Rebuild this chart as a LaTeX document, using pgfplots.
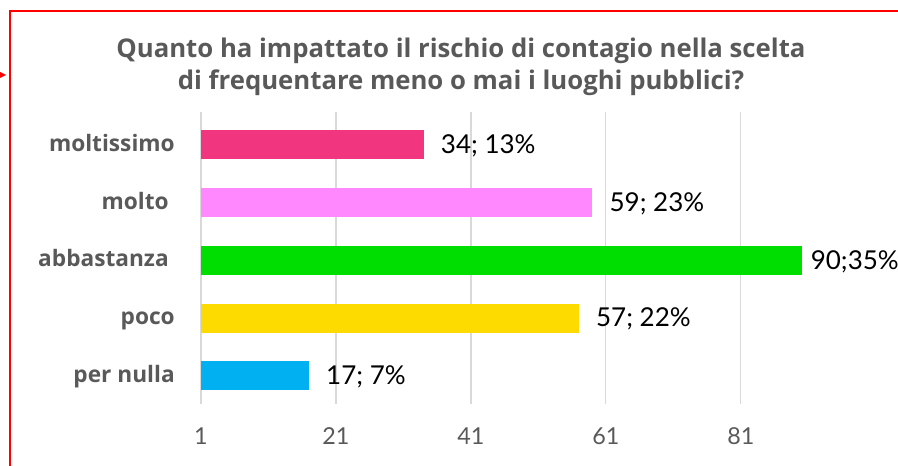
\documentclass[border=0pt]{standalone}
\usepackage{pgfplots}
\pgfplotsset{compat=1.18}
\usepackage{fontspec}
\setmainfont{Lato}
\newfontfamily\titlefont{Open Sans}
\definecolor{txtgray}{HTML}{595959}
\definecolor{gridgray}{HTML}{D9D9D9}
\definecolor{cMoltissimo}{HTML}{F2357F}
\definecolor{cMolto}{HTML}{FF88FF}
\definecolor{cAbbastanza}{HTML}{00DD00}
\definecolor{cPoco}{HTML}{FDDB00}
\definecolor{cNulla}{HTML}{00B0F0}
\newcommand{\semic}{;}
\begin{document}
\begin{tikzpicture}
\path[use as bounding box] (0,0) rectangle (673.5pt,349.5pt);
% frame
\draw[red, line width=1.5pt] (7.5pt,-5pt) -- (7.5pt,341.25pt) -- (680pt,341.25pt);
\fill[red] (-2pt,290pt) -- (4.5pt,293.25pt) -- (-2pt,296.5pt) -- cycle;
% title
\node[anchor=base, font=\titlefont\bfseries\fontsize{19.3pt}{22pt}\selectfont, text=txtgray, inner sep=0] at (345.75pt,306.5pt) {Quanto ha impattato il rischio di contagio nella scelta};
\node[anchor=base, font=\titlefont\bfseries\fontsize{19.3pt}{22pt}\selectfont, text=txtgray, inner sep=0] at (345.75pt,282pt) {di frequentare meno o mai i luoghi pubblici?};
\begin{axis}[
  at={(150.75pt,46.5pt)}, anchor=south west,
  scale only axis, width=501pt, height=219pt,
  xbar, bar width=21.75pt, bar shift=0pt,
  xmin=1, xmax=100, ymin=-0.485, ymax=4.571,
  xtick={1,21,41,61,81},
  ytick={0,1,2,3,4},
  yticklabels={per nulla,poco,{abbastanza\hspace*{4.5pt}},{molto\hspace*{4.5pt}},moltissimo},
  xmajorgrids, grid style={gridgray, line width=0.9pt},
  axis line style={draw=none},
  major tick length=0pt,
  xticklabel style={anchor=base, inner sep=0, yshift=-30.75pt, text=txtgray, font=\fontsize{17.5pt}{20pt}\selectfont},
  yticklabel style={anchor=base east, inner sep=0, xshift=-19.5pt, yshift=-4.8pt, text=txtgray, font=\titlefont\bfseries\fontsize{17pt}{20pt}\selectfont},
  /pgf/number format/assume math mode=true,
  every node near coord/.style={anchor=base west, inner sep=0, xshift=12.75pt, yshift=-6.4pt, text=black, font=\fontsize{19.5pt}{22pt}\selectfont},
  clip=true,
]
\addplot[fill=cMoltissimo, draw=none, nodes near coords={34\semic{} 13\%}] coordinates {(34,4)};
\addplot[fill=cMolto, draw=none, nodes near coords={59\semic{} 23\%}] coordinates {(59,3)};
\addplot[fill=cAbbastanza, draw=none, nodes near coords={90\semic{}35\%}, every node near coord/.append style={xshift=-6pt}] coordinates {(90,2)};
\addplot[fill=cPoco, draw=none, nodes near coords={57\semic{} 22\%}] coordinates {(57,1)};
\addplot[fill=cNulla, draw=none, nodes near coords={17\semic{} 7\%}] coordinates {(17,0)};
\end{axis}
\end{tikzpicture}
\end{document}
